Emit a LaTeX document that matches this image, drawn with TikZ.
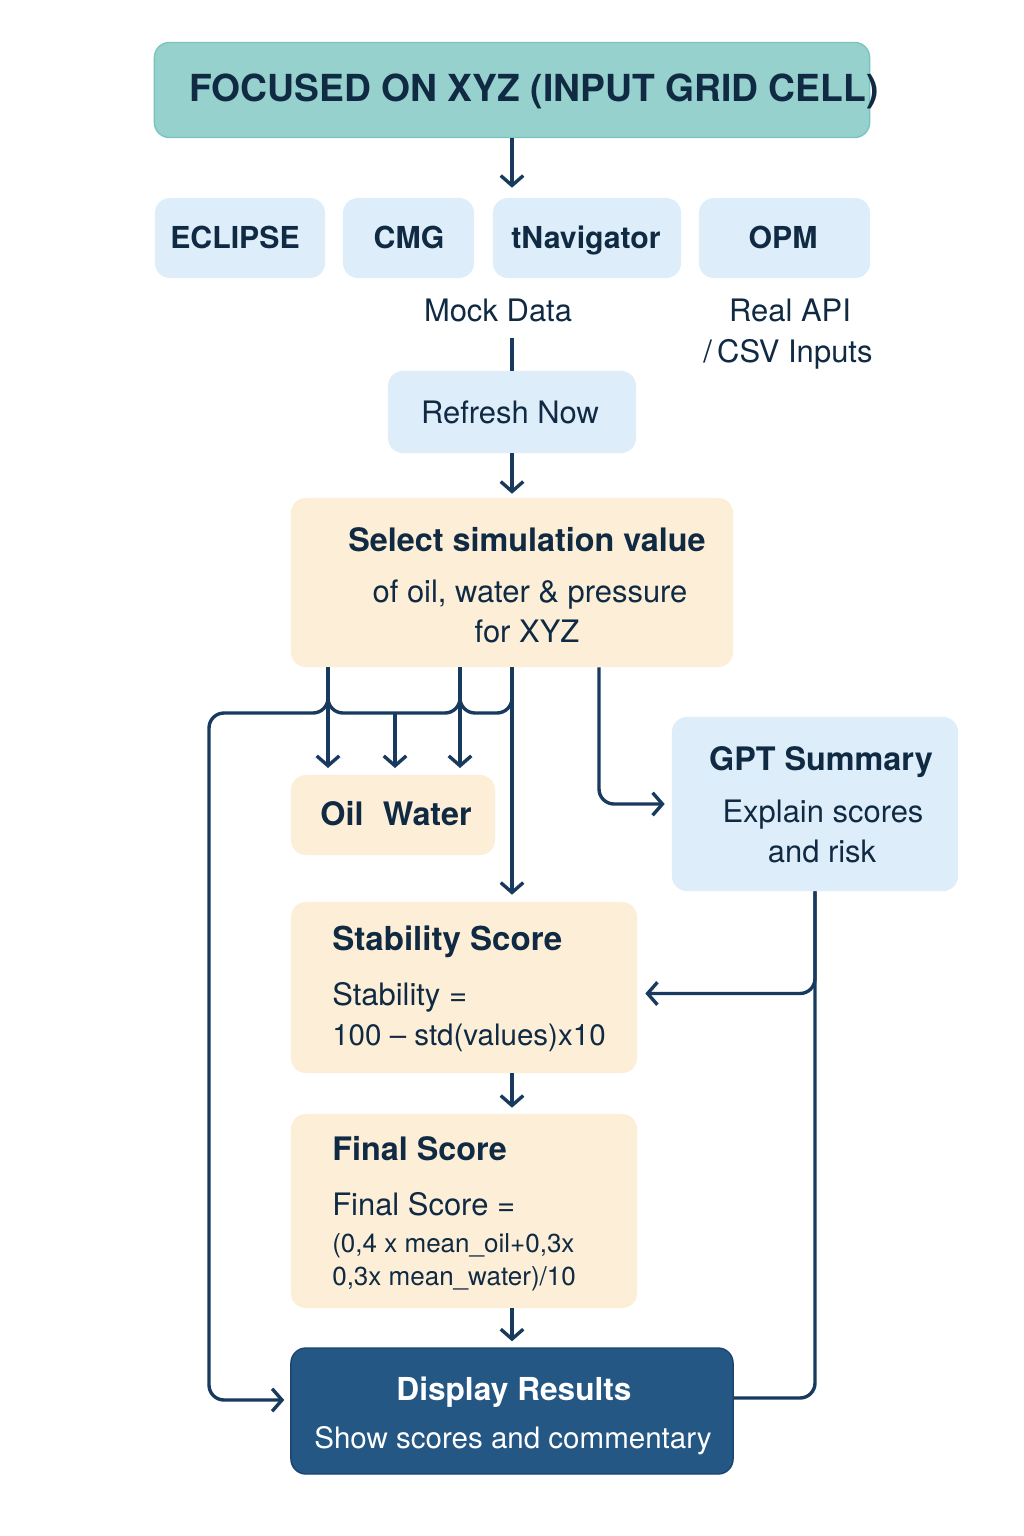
\documentclass[tikz,border=0pt]{standalone}
\usepackage{fontspec}
\setmainfont{TeX Gyre Heros}
\usetikzlibrary{positioning,arrows.meta}
\definecolor{navy}{HTML}{102A43}
\definecolor{linecol}{HTML}{183A5E}
\definecolor{tealfill}{HTML}{97D1CD}
\definecolor{tealedge}{HTML}{7BC3BE}
\definecolor{skyfill}{HTML}{DDEEFA}
\definecolor{sandfill}{HTML}{FDEFD7}
\definecolor{dispfill}{HTML}{245783}
\definecolor{dispedge}{HTML}{1A4570}

\begin{document}
\begin{tikzpicture}[x=0.025cm,y=-0.025cm,
  box/.style={rounded corners=0.375cm, inner sep=0pt},
  skybox/.style={box, fill=skyfill},
  sandbox/.style={box, fill=sandfill},
  lbl/.style={anchor=base, inner sep=0pt, text=navy},
  lblw/.style={anchor=base west, inner sep=0pt, text=navy},
  headf/.style={font=\fontsize{23}{27}\selectfont\bfseries},
  bodyf/.style={font=\fontsize{22}{26}\selectfont},
  smallf/.style={font=\fontsize{18.5}{22}\selectfont},
  link/.style={draw=linecol, line width=2.4pt, rounded corners=0.375cm},
  flow/.style={link, -{Straight Barb[length=7pt,width=16pt,line width=2.4pt]}}]
\useasboundingbox[fill=white] (0,0) rectangle (1024,1536);

% boxes
\node[box, fill=tealfill, draw=tealedge, line width=1pt, minimum width=17.875cm, minimum height=2.375cm] (focus) at (512,90) {};
\node[skybox, minimum width=4.25cm, minimum height=2cm] (eclipse) at (240,238) {};
\node[skybox, minimum width=3.275cm, minimum height=2cm] (cmg) at (408.5,238) {};
\node[skybox, minimum width=4.7cm, minimum height=2cm] (tnav) at (587,238) {};
\node[skybox, minimum width=4.275cm, minimum height=2cm] (opm) at (784.5,238) {};
\node[skybox, minimum width=6.2cm, minimum height=2.05cm] (refresh) at (512,412) {};
\node[sandbox, minimum width=11.05cm, minimum height=4.225cm] (select) at (512,582.5) {};
\node[sandbox, minimum width=5.1cm, minimum height=2cm] (oilwater) at (393,815) {};
\node[skybox, minimum width=7.15cm, minimum height=4.35cm] (gpt) at (815,804) {};
\node[sandbox, minimum width=8.65cm, minimum height=4.275cm] (stab) at (464,987.5) {};
\node[sandbox, minimum width=8.65cm, minimum height=4.85cm] (final) at (464,1211) {};
\node[box, fill=dispfill, draw=dispedge, line width=1pt, minimum width=11.05cm, minimum height=3.15cm] (display) at (512,1411) {};

% texts
\node[lbl, font=\fontsize{26.5}{30}\selectfont\bfseries] (focustxt) at (534,102) {FOCUSED ON XYZ (INPUT GRID CELL)};
\node[lbl, font=\fontsize{21.5}{25}\selectfont\bfseries] (eclipsetxt) at (235,249) {ECLIPSE};
\node[lbl, font=\fontsize{21.5}{25}\selectfont\bfseries] (cmgtxt) at (409,249) {CMG};
\node[lbl, font=\fontsize{21.5}{25}\selectfont\bfseries] (tnavtxt) at (586,249) {tNavigator};
\node[lbl, font=\fontsize{21.5}{25}\selectfont\bfseries] (opmtxt) at (783,249) {OPM};
\node[lbl, bodyf] (mock) at (498,322) {Mock Data};
\node[lbl, bodyf] (realapi) at (790,322) {Real API};
\node[lbl, bodyf] (csvin) at (788,362) {/\,CSV Inputs};
\node[lbl, bodyf] (refreshtxt) at (510,423) {Refresh Now};
\node[lbl, headf] (selecttxt) at (527,551) {Select simulation value};
\node[lbl, bodyf] (selectsub) at (530,602) {of oil, water \& pressure};
\node[lbl, bodyf] (selectxyz) at (527,642) {for XYZ};
\node[lbl, headf] (oilwatertxt) at (396,825) {Oil\hspace{0.6em}Water};
\node[lbl, headf] (gpttxt) at (821,770) {GPT Summary};
\node[lbl, bodyf] (gptsub) at (823,822) {Explain scores};
\node[lbl, bodyf] (gptrisk) at (822,862) {and risk};
\node[lblw, font=\fontsize{23.5}{27}\selectfont\bfseries] (stabtxt) at (332,950) {Stability Score};
\node[lblw, bodyf] (stabeq) at (332,1005) {Stability =};
\node[lblw, font=\fontsize{21}{25}\selectfont] (stabform) at (332,1045) {100 – std(values)x10};
\node[lblw, headf] (finaltxt) at (332,1160) {Final Score};
\node[lblw, bodyf] (finaleq) at (332,1215) {Final Score =};
\node[lblw, smallf] (finalone) at (332,1252) {(0,4 x mean\_oil+0,3x};
\node[lblw, smallf] (finaltwo) at (332,1285) {0,3x mean\_water)/10};
\node[lbl, text=white, font=\fontsize{22.5}{26}\selectfont\bfseries] (displaytxt) at (514,1400) {Display Results};
\node[lbl, text=white, font=\fontsize{21}{25}\selectfont] (displaysub) at (513,1448) {Show scores and commentary};

% branch points
\coordinate (mockend) at (512,338);
\coordinate (tapA) at (328,768);
\coordinate (tapB) at (395,768);
\coordinate (tapC) at (460,768);
\coordinate (bus) at (209,713);
\coordinate (gptbend) at (599,805);

% connectors
\draw[flow, shorten >=0.25cm] (focus.south) -- (focus.south |- tnav.north);
\draw[link] (mockend) -- (refresh.north);
\draw[flow, shorten >=0.1cm] (refresh.south) -- (select.north);
\draw[flow] (select.south -| tapA) -- (tapA);
\draw[flow] (select.south -| tapC) -- (tapC);
\draw[flow] (bus -| tapB) -- (tapB);
\draw[link] (select.south -| tapA) |- (bus -| tapC) -- (select.south -| tapC);
\draw[link] (select.south -| tapC) |- (bus -| select.south) -- (select.south);
\draw[flow, shorten >=0.175cm] (select.south) -- (stab.north -| select.south);
\draw[flow, shorten >=0.15cm] (select.south -| tapA) |- (bus) |- ([yshift=0.275cm]display.west);
\draw[flow, shorten >=0.175cm] (select.south -| gptbend) |- (gpt.west);
\draw[link] (gpt.south) |- ([yshift=0.325cm]display.east);
\draw[flow, shorten >=0.2cm] (gpt.south) |- ([yshift=-0.15cm]stab.east);
\draw[flow, shorten >=0.15cm] (stab.south -| select.south) -- (final.north -| select.south);
\draw[flow, shorten >=0.15cm] (final.south -| display.north) -- (display.north);
\end{tikzpicture}
\end{document}
